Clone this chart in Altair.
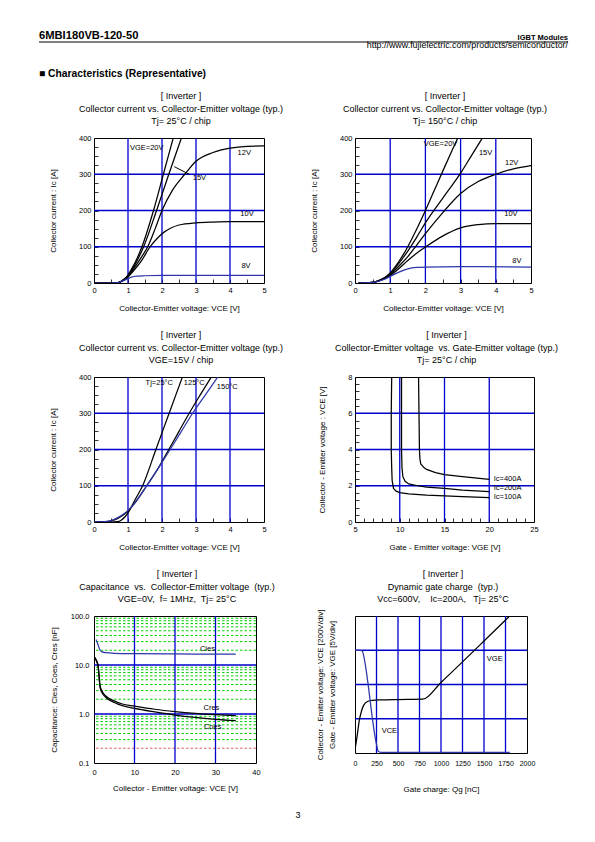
import altair as alt
import pandas as pd

FONT = "Liberation Sans"
GRID_BLUE = "#0000cc"
CURVE_BLUE = "#2e36a8"
GREEN = "#00d000"
RED = "#e06060"

# ---------------- Panel 1: Ic vs Vce, Tj=25C ----------------
P1_X_20 = [0, 0.5, 0.7, 0.8, 0.9, 1.0, 1.1, 1.2, 1.41, 1.75, 2.04, 2.33]
P1_Y_20 = [0, 0, 1, 5, 12, 22, 38, 55, 100, 200, 300, 400]
P1_X_15 = [0, 0.5, 0.7, 0.8, 0.9, 1.0, 1.1, 1.2, 1.46, 1.84, 2.2, 2.57]
P1_Y_15 = [0, 0, 1, 5, 11, 20, 34, 50, 100, 200, 300, 400]
P1_X_12 = [0, 0.5, 0.7, 0.8, 0.9, 1.0, 1.2, 1.4, 1.58, 1.8, 2.0, 2.3, 2.67, 3.0, 3.5, 4.0, 4.5, 5.0]
P1_Y_12 = [0, 0, 1, 4, 10, 18, 44, 72, 100, 150, 200, 255, 300, 336, 360, 372, 377, 378]
P1_X_10 = [0, 0.5, 0.7, 0.8, 0.9, 1.0, 1.2, 1.4, 1.65, 1.85, 2.0, 2.25, 2.5, 3.0, 3.5, 4.0, 5.0]
P1_Y_10 = [0, 0, 1, 4, 9, 17, 38, 62, 100, 122, 136, 151, 160, 166, 168, 169, 169]
P1_X_8 = [0, 0.5, 0.7, 0.8, 0.9, 1.0, 1.1, 1.25, 1.5, 2.0, 3.0, 5.0]
P1_Y_8 = [0, 0, 1, 4, 8, 12, 16, 19, 20, 21, 21, 21]
P1_LABELS = ["VGE=20V", "12V", "15V", "10V", "8V"]
P1_LABEL_X = [1.55, 4.42, 3.1, 4.5, 4.47]
P1_LABEL_Y = [372, 358, 289, 189, 48]
P1_LEADER = [2.36, 321, 2.8, 300]

# ---------------- Panel 2: Ic vs Vce, Tj=150C ----------------
P2_X_20 = [0.1, 0.4, 0.6, 0.8, 1.0, 1.25, 1.5, 1.75, 2.0, 2.25, 2.5, 2.75, 2.92]
P2_Y_20 = [0, 1, 4, 12, 28, 60, 100, 148, 200, 255, 310, 364, 400]
P2_X_15 = [0.1, 0.4, 0.6, 0.8, 1.0, 1.25, 1.5, 1.75, 2.0, 2.5, 3.0, 3.3, 3.62]
P2_Y_15 = [0, 1, 4, 12, 26, 55, 88, 126, 166, 235, 303, 350, 400]
P2_X_12 = [0.1, 0.4, 0.6, 0.8, 1.0, 1.25, 1.5, 1.75, 2.0, 2.5, 3.0, 3.5, 4.0, 4.5, 5.0]
P2_Y_12 = [0, 1, 4, 11, 23, 47, 73, 104, 136, 195, 247, 280, 300, 315, 324]
P2_X_10 = [0.1, 0.4, 0.6, 0.8, 1.0, 1.25, 1.5, 1.75, 2.0, 2.5, 3.0, 3.5, 4.0, 5.0]
P2_Y_10 = [0, 1, 4, 10, 20, 40, 62, 82, 99, 130, 152, 161, 164, 164]
P2_X_8 = [0.1, 0.4, 0.6, 0.8, 1.0, 1.25, 1.5, 1.75, 2.0, 3.0, 5.0]
P2_Y_8 = [0, 1, 3, 9, 18, 30, 39, 43, 44, 45, 44]
P2_LABELS = ["VGE=20V", "15V", "12V", "10V", "8V"]
P2_LABEL_X = [2.43, 3.71, 4.45, 4.43, 4.6]
P2_LABEL_Y = [383, 358, 330, 189, 62]

# ---------------- Panel 3: Ic vs Vce, VGE=15V ----------------
P3_X_25 = [0, 0.5, 0.7, 0.8, 0.9, 1.0, 1.1, 1.2, 1.43, 1.82, 2.21, 2.6]
P3_Y_25 = [0, 0, 1, 5, 13, 25, 42, 60, 100, 200, 300, 400]
P3_X_125 = [0, 0.3, 0.5, 0.7, 0.9, 1.0, 1.2, 1.55, 1.9, 2.2, 2.5, 2.8, 3.12, 3.45]
P3_Y_125 = [0, 0.5, 3, 10, 22, 30, 52, 100, 150, 200, 250, 300, 350, 400]
P3_X_150 = [0, 0.3, 0.5, 0.7, 0.9, 1.0, 1.2, 1.55, 1.9, 2.24, 2.57, 2.9, 3.27, 3.64]
P3_Y_150 = [0, 1, 4, 12, 24, 32, 53, 100, 150, 200, 250, 300, 350, 400]
P3_LABELS = ["Tj=25°C", "125°C", "150°C"]
P3_LABEL_X = [1.92, 2.95, 3.92]
P3_LABEL_Y = [383, 383, 372]

# ---------------- Panel 4: Vce vs Vge ----------------
P4_X_100 = [9.1, 9.05, 9.05, 9.1, 9.15, 9.3, 9.6, 10, 11, 13, 15, 17, 20]
P4_Y_100 = [8, 6, 4, 3, 2.3, 1.85, 1.7, 1.62, 1.55, 1.48, 1.44, 1.4, 1.35]
P4_X_200 = [10.2, 10.2, 10.2, 10.25, 10.35, 10.6, 11, 12, 13, 15, 17, 20]
P4_Y_200 = [8, 6, 4, 3, 2.5, 2.25, 2.1, 2.0, 1.93, 1.85, 1.76, 1.68]
P4_X_400 = [12.1, 12.15, 12.2, 12.25, 12.35, 12.7, 13, 14, 15, 17, 20]
P4_Y_400 = [8, 6, 4, 3.5, 3.2, 3.0, 2.9, 2.72, 2.62, 2.5, 2.35]
P4_LABELS = ["Ic=400A", "Ic=200A", "Ic=100A"]
P4_LABEL_X = [20.5, 20.5, 20.5]
P4_LABEL_Y = [2.4, 1.9, 1.36]

# ---------------- Panel 5: Capacitance ----------------
P5_X_CIES = [0.5, 1, 1.5, 2, 3, 5, 10, 20, 30, 35]
P5_Y_CIES = [33, 26, 20, 18.5, 17.8, 17.3, 17, 16.8, 16.7, 16.6]
P5_X_CRES = [0, 0.5, 1, 1.5, 2, 3, 5, 7, 10, 15, 20, 25, 30, 35]
P5_Y_CRES = [15, 13, 10, 3.8, 2.9, 2.3, 1.85, 1.6, 1.45, 1.25, 1.12, 1.03, 0.97, 0.93]
P5_X_COES = [0, 0.5, 1, 1.5, 2, 3, 5, 7, 10, 15, 20, 25, 30, 35]
P5_Y_COES = [15, 12.5, 9.5, 3.5, 2.7, 2.15, 1.72, 1.48, 1.3, 1.1, 0.95, 0.85, 0.78, 0.73]
P5_LABELS = ["Cies", "Cres", "Coes"]
P5_LABEL_X = [28, 29, 29.3]
P5_LABEL_Y = [21, 1.3, 0.54]

# ---------------- Panel 6: Gate charge ----------------
P6_X_VGE = [0, 25, 50, 75, 100, 150, 200, 300, 500, 790, 1000, 1250, 1500, 1790]
P6_Y_VGE = [0.1, 0.5, 0.95, 1.22, 1.39, 1.51, 1.54, 1.55, 1.56, 1.57, 2.06, 2.66, 3.27, 3.98]
P6_X_VCE = [0, 60, 85, 100, 125, 150, 175, 200, 225, 250, 270, 300, 500, 1000, 1500, 1800]
P6_Y_VCE = [3.0, 3.0, 2.98, 2.85, 2.5, 2.05, 1.55, 1.05, 0.6, 0.25, 0.05, 0.02, 0.02, 0.02, 0.02, 0.02]
P6_LABELS = ["VGE", "VCE"]
P6_LABEL_X = [1625, 400]
P6_LABEL_Y = [2.75, 0.63]

INV = "[ Inverter ]"
T1 = [INV, "Collector current vs. Collector-Emitter voltage (typ.)", "Tj= 25°C / chip"]
T2 = [INV, "Collector current vs. Collector-Emitter voltage (typ.)", "Tj= 150°C / chip"]
T3 = [INV, "Collector current vs. Collector-Emitter voltage (typ.)", "VGE=15V / chip"]
T4 = [INV, "Collector-Emitter voltage\u00a0 vs. Gate-Emitter voltage (typ.)", "Tj= 25°C / chip"]
T5 = [INV, "Capacitance\u00a0 vs.\u00a0 Collector-Emitter voltage\u00a0 (typ.)", "VGE=0V,\u00a0 f= 1MHz,\u00a0 Tj= 25°C"]
T6 = [INV, "Dynamic gate charge\u00a0 (typ.)", "Vcc=600V,\u00a0\u00a0\u00a0 Ic=200A,\u00a0\u00a0 Tj= 25°C"]


def curves_df(series):
    rows = []
    for name, xs, ys, col in series:
        for i, (x, y) in enumerate(zip(xs, ys)):
            rows.append({"x": x, "y": y, "s": name, "i": i, "c": col})
    return pd.DataFrame(rows)


def line_layer(series, X, Y, interp="monotone"):
    df = curves_df(series)
    return alt.Chart(df).mark_line(clip=True, strokeWidth=1.25, interpolate=interp).encode(
        x=X, y=Y, detail="s:N", order="i:Q", color=alt.Color("c:N", scale=None))


def vgrid(vals, X, color=GRID_BLUE, dash=None, width=1.3):
    kw = {"strokeDash": dash} if dash else {}
    return alt.Chart(pd.DataFrame({"x": vals})).mark_rule(color=color, strokeWidth=width, **kw).encode(x=X)


def hgrid(vals, Y, color=GRID_BLUE, dash=None, width=1.3):
    kw = {"strokeDash": dash} if dash else {}
    return alt.Chart(pd.DataFrame({"y": vals})).mark_rule(color=color, strokeWidth=width, **kw).encode(y=Y)


def labels(texts, xs, ys, X, Y, align="center", size=7.5):
    df = pd.DataFrame({"x": xs, "y": ys, "t": texts})
    return alt.Chart(df).mark_text(font=FONT, fontSize=size, align=align, baseline="middle", color="black").encode(
        x=X, y=Y, text="t:N")


def ptext(text, x, y, size, weight="normal", align="left", baseline="alphabetic"):
    return alt.Chart(pd.DataFrame({"t": [text]})).mark_text(
        align=align, baseline=baseline, fontSize=size, fontWeight=weight, font=FONT, color="black"
    ).encode(x=alt.value(x), y=alt.value(y), text="t:N")


def title_layers(lines, width):
    ys = [-42, -29.5, -17.5]
    return [ptext(t, width / 2 + 2, y, 9, align="center", baseline="middle") for t, y in zip(lines, ys)]


def tick_axis(title, values, majors, title_pad, label_pad=3):
    majors_js = "[" + ",".join(str(m) for m in majors) + "]"
    return alt.Axis(title=title, values=values, offset=-4, tickSize=4, tickColor="black", tickWidth=0.8,
                    domain=False, grid=False,
                    labelExpr=f"indexof({majors_js}, round(datum.value * 10) / 10) >= 0 ? format(datum.value, 'd') : ''",
                    labelFlush=False, labelOverlap=False, labelPadding=label_pad, titlePadding=title_pad)


VCE_TICKS = [i * 0.5 for i in range(11)]
VCE_MAJOR = [0, 1, 2, 3, 4, 5]
IC_TICKS = [i * 25 for i in range(17)]
IC_MAJOR = [0, 100, 200, 300, 400]
VGE_TICKS = list(range(5, 26))
VGE_MAJOR = [5, 10, 15, 20, 25]
VCE8_TICKS = [round(i * 0.4, 1) for i in range(21)]
VCE8_MAJOR = [0, 2, 4, 6, 8]


def ic_axes():
    X = alt.X("x:Q", scale=alt.Scale(domain=[0, 5], nice=False, zero=False),
              axis=tick_axis("Collector-Emitter voltage: VCE [V]", VCE_TICKS, VCE_MAJOR, 11))
    Y = alt.Y("y:Q", scale=alt.Scale(domain=[0, 400], nice=False, zero=False),
              axis=tick_axis("Collector current : Ic [A]", IC_TICKS, IC_MAJOR, 21))
    return X, Y


# ---- Panel 1 (also carries the page header)
W1, H1 = 170, 145
X1, Y1 = ic_axes()
p1 = alt.layer(
    vgrid([1, 2, 3, 4], X1), hgrid([100, 200, 300], Y1),
    line_layer([("20", P1_X_20, P1_Y_20, "black"), ("15", P1_X_15, P1_Y_15, "black"),
                ("12", P1_X_12, P1_Y_12, "black"), ("10", P1_X_10, P1_Y_10, "black"),
                ("8", P1_X_8, P1_Y_8, CURVE_BLUE)], X1, Y1),
    alt.Chart(pd.DataFrame({"x": [P1_LEADER[0]], "y": [P1_LEADER[1]], "x2": [P1_LEADER[2]], "y2": [P1_LEADER[3]]}))
    .mark_rule(color="black", strokeWidth=1).encode(x=X1, y=Y1, x2="x2:Q", y2="y2:Q"),
    labels(P1_LABELS, P1_LABEL_X, P1_LABEL_Y, X1, Y1),
    ptext("6MBI180VB-120-50", -55, -99, 11.2, "bold"),
    ptext("IGBT Modules", 474, -98.5, 7.5, "bold", align="right"),
    ptext("http://www.fujielectric.com/products/semiconductor/", 474, -90, 8.9, align="right"),
    ptext("■ Characteristics (Representative)", -55, -61, 10.3, "bold"),
    alt.Chart(pd.DataFrame({"a": [0]})).mark_rule(color="black", strokeWidth=1).encode(
        x=alt.value(-55), x2=alt.value(474), y=alt.value(-96)),
    *title_layers(T1, W1),
).properties(width=W1, height=H1)

# ---- Panel 2
W2, H2 = 176, 145
X2, Y2 = ic_axes()
p2 = alt.layer(
    vgrid([1, 2, 3, 4], X2), hgrid([100, 200, 300], Y2),
    line_layer([("20", P2_X_20, P2_Y_20, "black"), ("15", P2_X_15, P2_Y_15, "black"),
                ("12", P2_X_12, P2_Y_12, "black"), ("10", P2_X_10, P2_Y_10, "black"),
                ("8", P2_X_8, P2_Y_8, CURVE_BLUE)], X2, Y2),
    labels(P2_LABELS, P2_LABEL_X, P2_LABEL_Y, X2, Y2),
    *title_layers(T2, W2),
).properties(width=W2, height=H2)

# ---- Panel 3
W3, H3 = 170, 145
X3, Y3 = ic_axes()
p3 = alt.layer(
    vgrid([1, 2, 3, 4], X3), hgrid([100, 200, 300], Y3),
    line_layer([("25", P3_X_25, P3_Y_25, "black"), ("125", P3_X_125, P3_Y_125, "black"),
                ("150", P3_X_150, P3_Y_150, CURVE_BLUE)], X3, Y3),
    labels(P3_LABELS, P3_LABEL_X, P3_LABEL_Y, X3, Y3),
    *title_layers(T3, W3),
).properties(width=W3, height=H3)

# ---- Panel 4
W4, H4 = 179, 145
X4 = alt.X("x:Q", scale=alt.Scale(domain=[5, 25], nice=False, zero=False),
           axis=tick_axis("Gate - Emitter voltage: VGE [V]", VGE_TICKS, VGE_MAJOR, 11))
Y4 = alt.Y("y:Q", scale=alt.Scale(domain=[0, 8], nice=False, zero=False),
           axis=tick_axis("Collector - Emitter voltage : VCE [V]", VCE8_TICKS, VCE8_MAJOR, 21))
p4 = alt.layer(
    vgrid([10, 15, 20], X4), hgrid([2, 4, 6], Y4),
    line_layer([("100", P4_X_100, P4_Y_100, "black"), ("200", P4_X_200, P4_Y_200, "black"),
                ("400", P4_X_400, P4_Y_400, "black")], X4, Y4, interp="linear"),
    labels(P4_LABELS, P4_LABEL_X, P4_LABEL_Y, X4, Y4, align="left"),
    *title_layers(T4, W4),
).properties(width=W4, height=H4)

# ---- Panel 5
W5, H5 = 162, 147
X5 = alt.X("x:Q", scale=alt.Scale(domain=[0, 40], nice=False, zero=False),
           axis=alt.Axis(title="Collector - Emitter voltage: VCE [V]", values=[0, 10, 20, 30, 40], format="d",
                         ticks=False, domain=False, grid=False, labelFlush=False, labelPadding=5, titlePadding=9))
Y5 = alt.Y("y:Q", scale=alt.Scale(type="log", domain=[0.1, 100], nice=False),
           axis=alt.Axis(title="Capacitance: Cies, Coes, Cres [nF]", values=[0.1, 1, 10, 100], format=".1f",
                         ticks=False, domain=False, grid=False, labelOverlap=False, labelFlush=False,
                         labelPadding=5, titlePadding=12))
P5_GREEN = [0.3, 0.4, 0.5, 0.6, 0.7, 0.8, 0.9, 2, 3, 4, 5, 6, 7, 8, 9, 20, 30, 40, 50, 60, 70, 80, 90]
p5 = alt.layer(
    hgrid(P5_GREEN, Y5, color=GREEN, dash=[2.5, 2], width=1),
    hgrid([0.2], Y5, color=RED, dash=[2.5, 2], width=1),
    hgrid([1, 10], Y5), vgrid([10, 20, 30], X5),
    line_layer([("cies", P5_X_CIES, P5_Y_CIES, CURVE_BLUE), ("cres", P5_X_CRES, P5_Y_CRES, "black"),
                ("coes", P5_X_COES, P5_Y_COES, "black")], X5, Y5),
    labels(P5_LABELS, P5_LABEL_X, P5_LABEL_Y, X5, Y5),
    ptext("3", 204, 202, 9, align="center"),
    *title_layers(T5, W5),
).properties(width=W5, height=H5)

# ---- Panel 6
W6, H6 = 172, 137
X6 = alt.X("x:Q", scale=alt.Scale(domain=[0, 2000], nice=False, zero=False),
           axis=alt.Axis(title="Gate charge: Qg [nC]", values=list(range(0, 2001, 250)), format="d",
                         ticks=False, domain=False, grid=False, labelFlush=False, labelOverlap=False,
                         labelPadding=6, titlePadding=19, labelFontSize=7))
Y6 = alt.Y("y:Q", scale=alt.Scale(domain=[0, 4], nice=False, zero=False),
           axis=alt.Axis(title=["Collector - Emitter voltage: VCE [200V/div]", "Gate - Emitter voltage: VGE [5V/div]"],
                         labels=False, ticks=False, domain=False, grid=False, titlePadding=19, titleLineHeight=12))
p6 = alt.layer(
    vgrid([250, 500, 750, 1000, 1250, 1500, 1750], X6), hgrid([1, 2, 3], Y6),
    line_layer([("vge", P6_X_VGE, P6_Y_VGE, "black"), ("vce", P6_X_VCE, P6_Y_VCE, CURVE_BLUE)], X6, Y6),
    labels(P6_LABELS, P6_LABEL_X, P6_LABEL_Y, X6, Y6),
    *title_layers(T6, W6),
).properties(width=W6, height=H6)

chart = alt.concat(p1, p2, p3, p4, p5, p6, columns=2, spacing={"row": 94, "column": 91},
                   bounds="flush", align="each").properties(
    padding={"left": 30, "top": 21, "right": 5, "bottom": 5}, background="white"
).configure_view(stroke="black", strokeWidth=1).configure_axis(
    labelFont=FONT, titleFont=FONT, labelFontSize=7.5, titleFontSize=8, titleFontWeight="normal",
    labelColor="black", titleColor="black")

chart.save("out.html", embed_options={"renderer": "svg", "actions": False})
